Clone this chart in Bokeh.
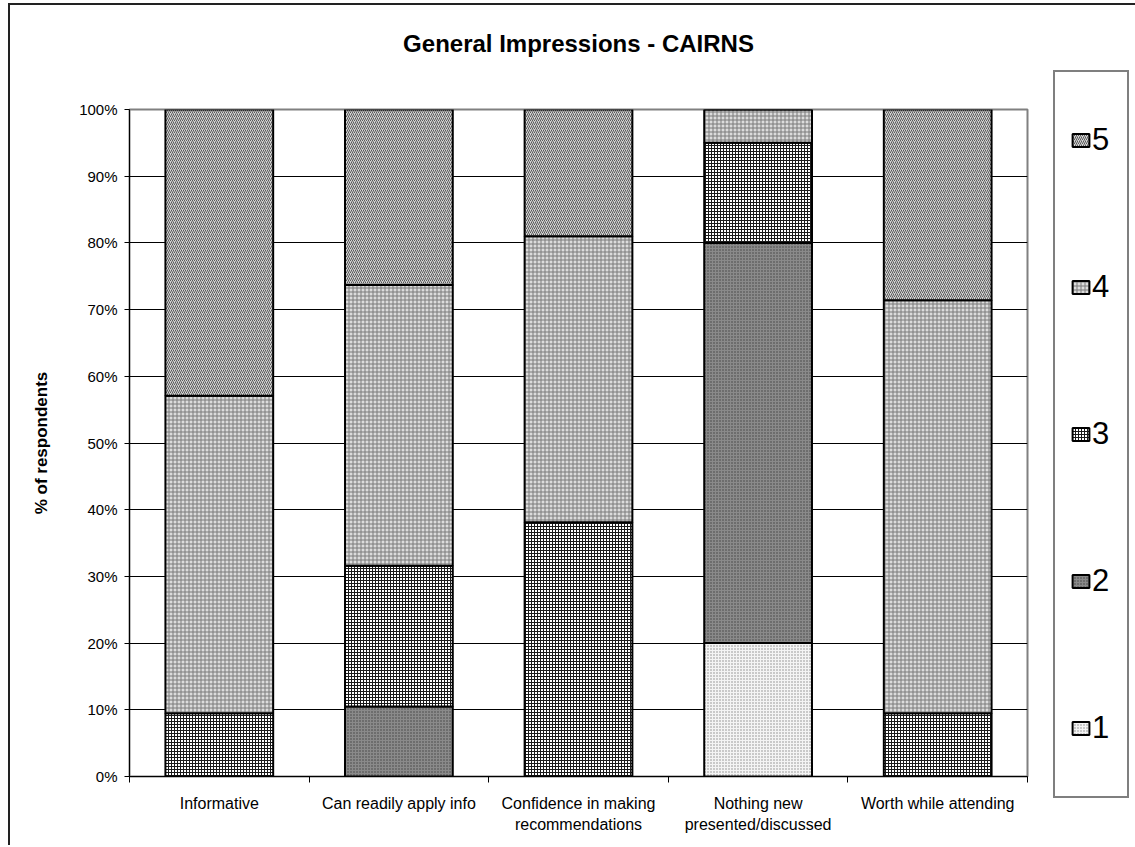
from bokeh.plotting import figure
from bokeh.models import (ColumnDataSource, FixedTicker, PrintfTickFormatter, Range1d,
                          Legend, LegendItem, Title)
from bokeh.embed import file_html
from bokeh.resources import INLINE

# ---- data (percent of respondents) ----
categories = ["Informative", "Can readily apply info",
              "Confidence in making\nrecommendations",
              "Nothing new\npresented/discussed", "Worth while attending"]
ratings = ["1", "2", "3", "4", "5"]
rating_1 = [0.0, 0.0, 0.0, 20.0, 0.0]
rating_2 = [0.0, 10.5, 0.0, 60.0, 0.0]
rating_3 = [9.5, 21.1, 38.1, 15.0, 9.5]
rating_4 = [47.6, 42.1, 42.9, 5.0, 61.9]
rating_5 = [42.9, 26.3, 19.0, 0.0, 28.6]
y_tick_values = [0, 10, 20, 30, 40, 50, 60, 70, 80, 90, 100]
chart_title = "General Impressions - CAIRNS"

FONT = "Liberation Sans"

x_pos = [i + 0.5 for i in range(len(categories))]
boundaries = [float(i) for i in range(len(categories) + 1)]

src = ColumnDataSource(dict(x=x_pos, r1=rating_1, r2=rating_2, r3=rating_3,
                            r4=rating_4, r5=rating_5))

p = figure(frame_width=898, frame_height=667, x_range=Range1d(0, len(categories)),
           y_range=Range1d(0, 100), output_backend="svg", toolbar_location=None,
           min_border_left=119, min_border_right=108, min_border_top=104,
           min_border_bottom=69, title_location=None)
p.margin = (3, 0, 0, 8)
p.styles = {"border-left": "2px solid #222222", "border-top": "2px solid #222222"}
p.background_fill_color = "white"
p.border_fill_color = "white"
p.outline_line_color = "#808080"
p.outline_line_width = 2

# spacer between frame and title, then the title itself
p.add_layout(Title(text=" ", text_font_size="1px", standoff=45), "above")
p.add_layout(Title(text=chart_title, text_font=FONT, text_font_size="24px",
                   text_font_style="bold", text_color="black", align="center",
                   standoff=10), "above")

stackers = ["r1", "r2", "r3", "r4", "r5"]
rends = p.vbar_stack(
    stackers, x="x", width=0.6, source=src,
    fill_color=["#f4f4f4", "#8a8a8a", "#ffffff", "#dcdcdc", "#d4d4d4"],
    hatch_pattern=[".", ".", "+", "+", "/"],
    hatch_color=["#8a8a8a", "#404040", "#1a1a1a", "#7a7a7a", "#5a5a5a"],
    hatch_scale=[3, 3, 3, 4, 4],
    hatch_weight=1,
    line_color="black", line_width=2)

# y axis
yax = p.yaxis[0]
yax.ticker = FixedTicker(ticks=y_tick_values)
yax.formatter = PrintfTickFormatter(format="%d%%")
yax.axis_line_color = "black"
yax.major_tick_out = 5
yax.major_tick_in = 0
yax.minor_tick_out = 0
yax.major_label_standoff = 7
yax.major_label_text_font = FONT
yax.major_label_text_font_size = "15px"
yax.major_label_text_color = "black"
yax.axis_label = "% of respondents"
yax.axis_label_text_font = FONT
yax.axis_label_text_font_size = "17px"
yax.axis_label_text_font_style = "bold"
yax.axis_label_text_color = "black"
yax.axis_label_standoff = 25

# x axis: labels at centres, tick marks at category boundaries
xax = p.xaxis[0]
xax.ticker = FixedTicker(ticks=x_pos, minor_ticks=boundaries)
xax.major_label_overrides = {x: c for x, c in zip(x_pos, categories)}
xax.axis_line_color = "black"
xax.major_tick_out = 0
xax.major_tick_in = 0
xax.minor_tick_out = 6
xax.minor_tick_in = 0
xax.major_label_standoff = 12
xax.major_label_text_font = FONT
xax.major_label_text_font_size = "16px"
xax.major_label_text_color = "black"
xax.major_label_text_line_height = 1.25

p.xgrid.visible = False
p.ygrid.ticker = FixedTicker(ticks=y_tick_values[1:-1])
p.ygrid.grid_line_color = "black"
p.ygrid.grid_line_width = 1

legend = Legend(
    items=[LegendItem(label=ratings[i], renderers=[rends[i]]) for i in range(4, -1, -1)],
    location=(26, -22), orientation="vertical",
    label_text_font=FONT, label_text_font_size="31px", label_text_color="black",
    glyph_width=21, glyph_height=16, label_standoff=1, padding=15,
    label_height=106, spacing=41, margin=0,
    border_line_color="black", border_line_width=2,
    background_fill_color="white", background_fill_alpha=1)
p.add_layout(legend, "right")

open("out.html", "w").write(file_html(p, INLINE))
